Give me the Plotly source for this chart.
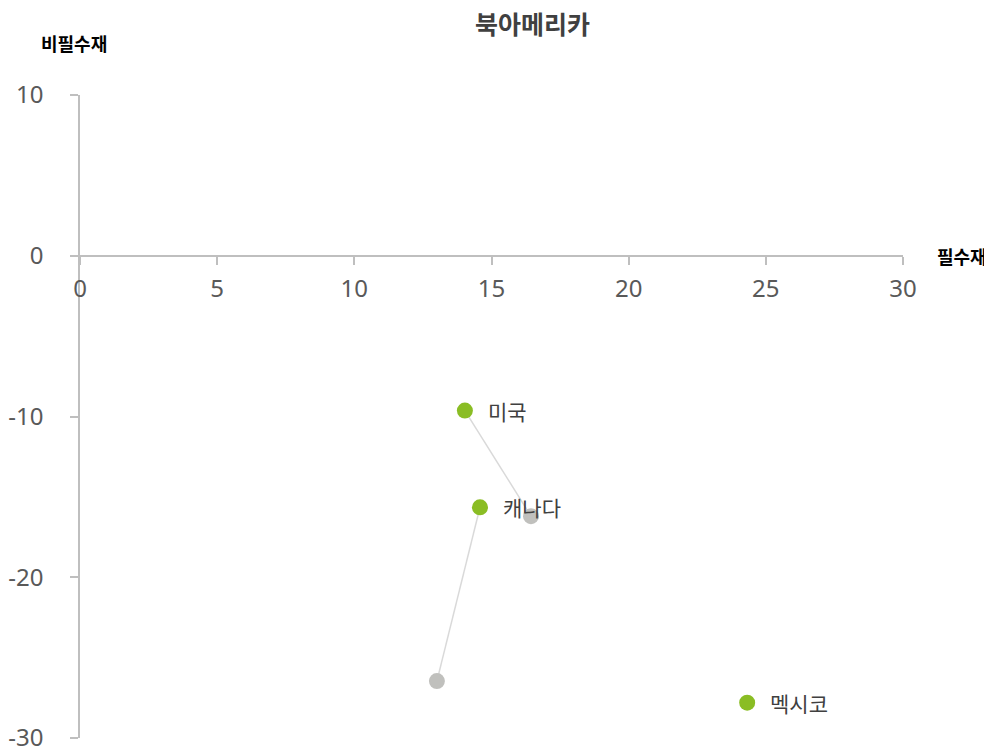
import plotly.graph_objects as go

countries = ["미국", "캐나다", "멕시코"]
cur_x = [14.03, 14.58, 24.32]
cur_y = [-9.63, -15.65, -27.8]
prev_x = [16.44, 13.01, None]
prev_y = [-16.2, -26.46, None]

x_ticks = [0, 5, 10, 15, 20, 25, 30]
y_ticks = [-30, -20, -10, 0, 10]

title_text = "북아메리카"
x_title = "필수재"
y_title = "비필수재"

KR = "Noto Sans CJK KR"
NUM = "Noto Sans"

fig = go.Figure()

for i in range(len(countries)):
    if prev_x[i] is None:
        continue
    fig.add_trace(go.Scatter(
        x=[cur_x[i], prev_x[i]], y=[cur_y[i], prev_y[i]],
        mode="lines", line=dict(color="#d9d9d9", width=1.5),
        hoverinfo="skip", showlegend=False))

px_ = [v for v in prev_x if v is not None]
py_ = [v for v in prev_y if v is not None]
fig.add_trace(go.Scatter(
    x=px_, y=py_, mode="markers",
    marker=dict(color="#c0c0bd", size=16, line=dict(width=0)),
    showlegend=False))

fig.add_trace(go.Scatter(
    x=cur_x, y=cur_y, mode="markers",
    marker=dict(color="#8abd24", size=16, line=dict(width=0)),
    showlegend=False))

for i, c in enumerate(countries):
    fig.add_annotation(x=cur_x[i], y=cur_y[i], text=c, showarrow=False,
                       xanchor="left", yanchor="middle", xshift=21,
                       font=dict(family=KR, size=21, color="#404040"))

fig.add_annotation(xref="paper", yref="paper", x=0.5504, y=1.0, yshift=72,
                   text="<b>" + title_text + "</b>", showarrow=False,
                   xanchor="center", yanchor="middle", borderpad=0,
                   font=dict(family=KR, size=25, color="#404040"))
fig.add_annotation(xref="paper", yref="paper", x=-0.0073, y=1.0, yshift=52,
                   text="<b>" + y_title + "</b>", showarrow=False,
                   xanchor="center", yanchor="middle",
                   font=dict(family=KR, size=18, color="#000000"))
fig.add_annotation(xref="paper", yref="y", x=1.0, y=0, xshift=32,
                   text="<b>" + x_title + "</b>", showarrow=False,
                   xanchor="left", yanchor="middle",
                   font=dict(family=KR, size=18, color="#000000"))

fig.update_layout(
    width=992, height=753,
    margin=dict(l=72, r=97, t=87, b=23, autoexpand=False),
    paper_bgcolor="white", plot_bgcolor="white",
    showlegend=False,
    xaxis=dict(range=[0, 30], tickvals=x_ticks, ticktext=[str(v) for v in x_ticks],
               anchor="free", position=0.75, automargin=False,
               showline=True, linecolor="#bfbfbf", linewidth=1.5,
               ticks="outside", ticklen=8, tickcolor="#bfbfbf", tickwidth=1.5,
               showgrid=False, zeroline=False, ticklabelstandoff=4,
               tickfont=dict(family=NUM, size=24, color="#595959")),
    yaxis=dict(range=[-30, 10], tickvals=y_ticks, ticktext=[str(v) for v in y_ticks],
               automargin=False,
               showline=True, linecolor="#bfbfbf", linewidth=1.5,
               ticks="outside", ticklen=8, tickcolor="#bfbfbf", tickwidth=1.5,
               showgrid=False, zeroline=False, ticklabelstandoff=22,
               tickfont=dict(family=NUM, size=24, color="#595959")),
)

fig.write_html("out.html")
